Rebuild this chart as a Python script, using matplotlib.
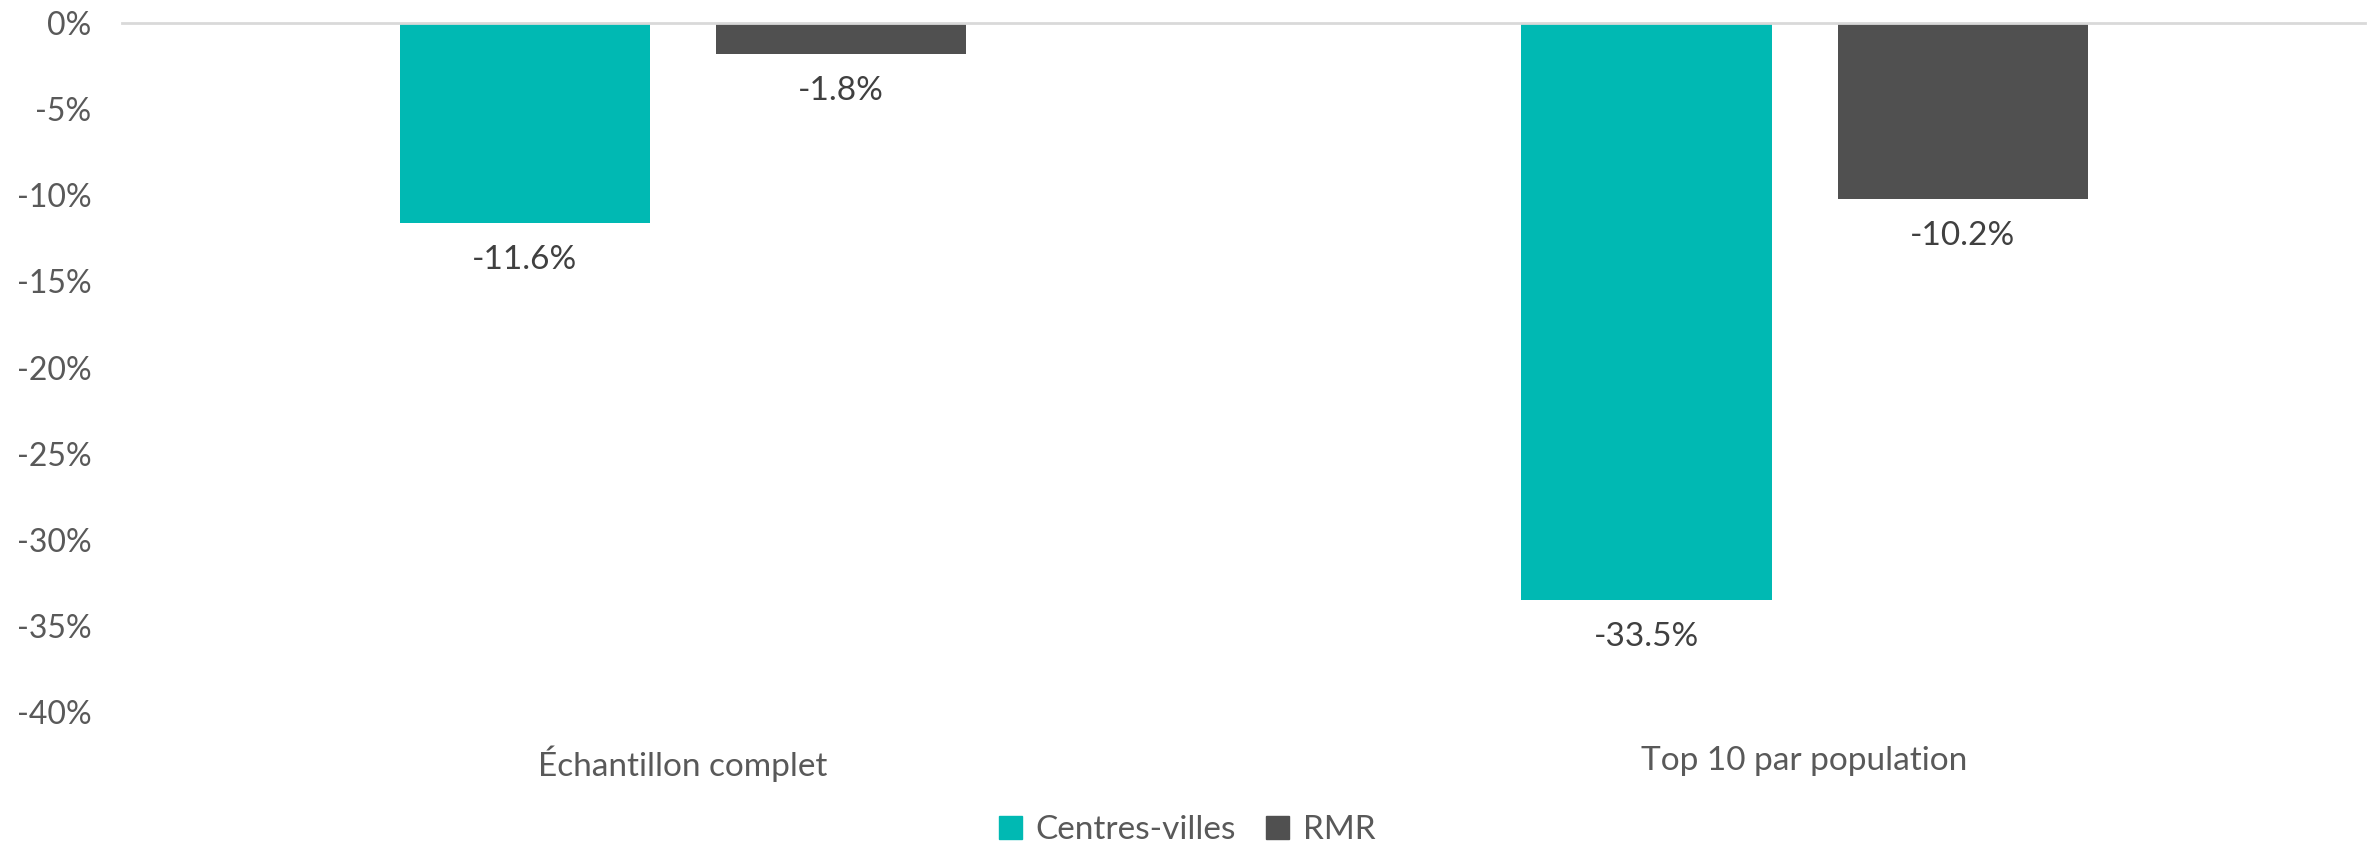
import matplotlib
matplotlib.use("Agg")
import matplotlib.pyplot as plt
from matplotlib.patches import Patch
import numpy as np

categories = ["Échantillon complet", "Top 10 par population"]
series_names = ["Centres-villes", "RMR"]
centres_villes = [-11.6, -33.5]
rmr = [-1.8, -10.2]
yticks = [0, -5, -10, -15, -20, -25, -30, -35, -40]

colors = ["#00B9B3", "#505050"]
plt.rcParams['font.family'] = ['Lato', 'DejaVu Sans']

fig = plt.figure(figsize=(23.74, 8.48), dpi=100)
ax = fig.add_axes([0.0514, 0.160, 0.945, 0.813])

x = np.arange(len(categories))
w = 0.223
off = 0.141
for vals, c, o in [(centres_villes, colors[0], -off), (rmr, colors[1], off)]:
    bars = ax.bar(x + o, vals, width=w, color=c, zorder=2)
    for b, v in zip(bars, vals):
        ax.annotate(f"{v:.1f}%", (b.get_x() + b.get_width() / 2, v),
                    xytext=(0, -37), textcoords="offset pixels",
                    ha="center", va="center", fontsize=24, color="#404040")

ax.set_xlim(-0.5, 1.5)
ax.set_ylim(-40, 0)
ax.set_yticks(yticks)
ax.set_yticklabels([f"{t}%" for t in yticks], fontsize=23, color="#595959")
ax.set_xticks(x)
ax.set_xticklabels(categories, fontsize=24, color="#595959")
ax.tick_params(axis="both", length=0)
ax.tick_params(axis="y", pad=22)
ax.tick_params(axis="x", pad=24)
for s in ["left", "right", "bottom"]:
    ax.spines[s].set_visible(False)
ax.spines["top"].set_color("#D9D9D9")
ax.spines["top"].set_linewidth(2)

handles = [Patch(color=c, label=n) for c, n in zip(colors, series_names)]
fig.legend(handles=handles, loc="center", bbox_to_anchor=(0.5, 1 - 830 / 848),
           ncol=2, frameon=False, fontsize=24, labelcolor="#595959",
           handlelength=0.7, handleheight=0.7, handletextpad=0.4, columnspacing=0.9)

fig.savefig("out.png", dpi=100)
